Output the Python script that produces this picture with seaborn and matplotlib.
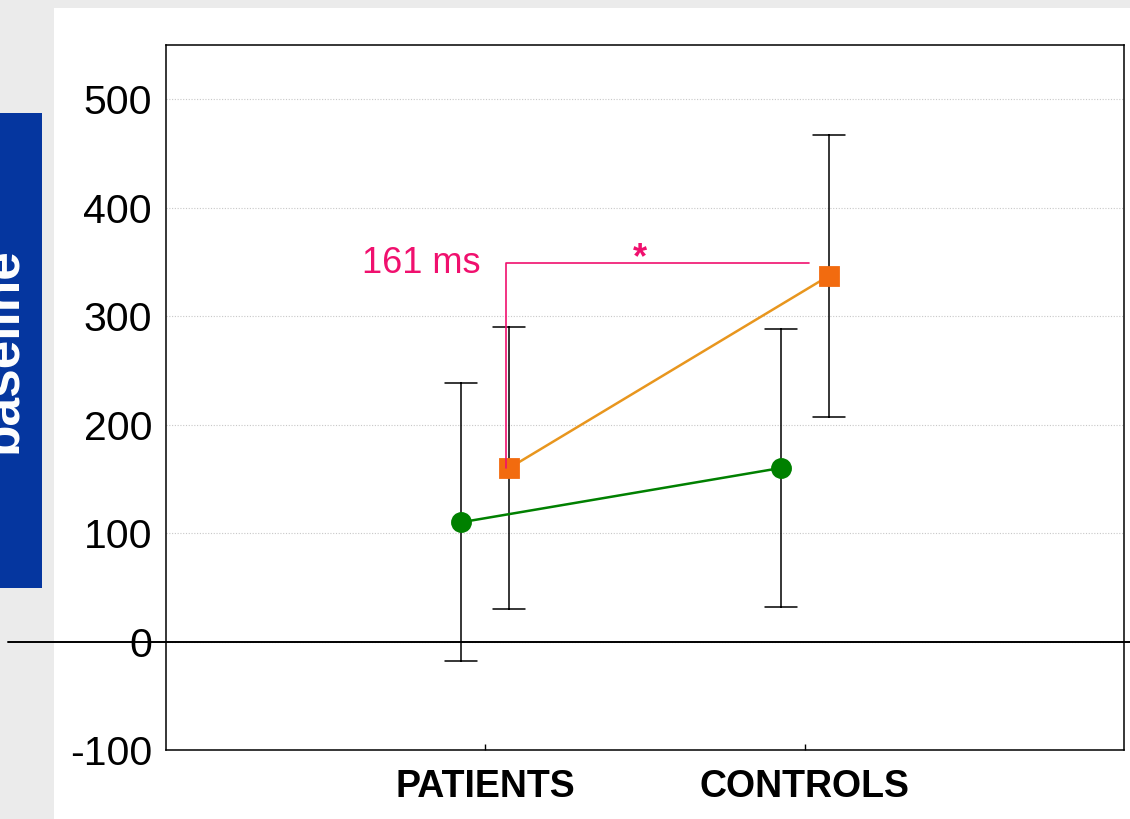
import pandas as pd
import matplotlib
matplotlib.use('Agg')
import matplotlib.pyplot as plt
import matplotlib.transforms as mtransforms
from matplotlib.lines import Line2D
from matplotlib.patches import Rectangle
import seaborn as sns

# Data (RT change from baseline, ms)
groups = ['PATIENTS', 'CONTROLS']
conditions = ['Condition A', 'Condition B']
means_a = [110, 160]
means_b = [160, 337]
errs_a = [128, 128]
errs_b = [130, 130]
yticks = [-100, 0, 100, 200, 300, 400, 500]

line_colors = ['#008000', '#e8961e']
marker_colors = ['#008000', '#f26b0f']
pink = '#f0106e'

# Long table: lower / mean / upper per cell, so median = mean and min/max = error bar
rows = []
for cond, means, errs in [(conditions[0], means_a, errs_a), (conditions[1], means_b, errs_b)]:
    for g, m, e in zip(groups, means, errs):
        for v in (m - e, m, m + e):
            rows.append({'group': g, 'condition': cond, 'rt': v})
df = pd.DataFrame(rows)

sns.set_style('white')
plt.rcParams['font.family'] = ['Liberation Sans', 'DejaVu Sans']
plt.rcParams['axes.unicode_minus'] = False

fig = plt.figure(figsize=(11.3, 8.19), dpi=100, facecolor='#ebebeb')
W, H = 1130, 819
fig.patches.append(Rectangle((54 / W, 0), 1 - 54 / W, 1 - 8 / H, transform=fig.transFigure,
                             facecolor='white', edgecolor='none', zorder=-2))
fig.patches.append(Rectangle((0, 1 - 588 / H), 42 / W, (588 - 113) / H, transform=fig.transFigure,
                             facecolor='#05369f', edgecolor='none', zorder=-1))
fig.text(16 / W, 1 - 350 / H, 'baseline', rotation=90, rotation_mode='anchor',
         ha='center', va='baseline', color='white', fontsize=37, fontweight='bold', zorder=2)

ax = fig.add_axes([166 / W, 1 - 750 / H, (1124 - 166) / W, (750 - 45) / H])
ax.set_facecolor('white')

# connecting lines
sns.pointplot(data=df, x='group', y='rt', hue='condition', order=groups, hue_order=conditions,
              palette=line_colors, estimator='median', errorbar=None, dodge=0.15,
              markers='', linewidth=1.8, legend=False, ax=ax, zorder=3)
# markers + error bars
sns.pointplot(data=df, x='group', y='rt', hue='condition', order=groups, hue_order=conditions,
              palette=marker_colors, estimator='median', errorbar=lambda v: (v.min(), v.max()),
              dodge=0.15, markers=['o', 's'], linestyles='none', capsize=0.1,
              err_kws={'color': 'black', 'linewidth': 1.1, 'zorder': 2},
              markersize=13, legend=False, ax=ax, zorder=4)

ax.set_xlim(-1, 2)
ax.set_ylim(-100, 550)
ax.set_yticks(yticks)
ax.set_xlabel('')
ax.set_ylabel('')
ax.yaxis.grid(True, color='#c8c8c8', linestyle=(0, (1, 1.5)), linewidth=0.8)
ax.xaxis.grid(False)
ax.set_axisbelow(True)
ax.tick_params(axis='y', length=0, pad=10, labelsize=29.5, colors='black')
ax.tick_params(axis='x', direction='in', length=4, width=1, pad=14, labelsize=27, colors='black',
               bottom=True)
for lbl in ax.get_xticklabels():
    lbl.set_fontweight('bold')
for sp in ax.spines.values():
    sp.set_visible(True)
    sp.set_color('black')
    sp.set_linewidth(1.1)

# zero line running across the whole figure width
trans = mtransforms.blended_transform_factory(fig.transFigure, ax.transData)
ax.add_line(Line2D([8 / W, 1.0], [0, 0], transform=trans, color='black', linewidth=1.4,
                   clip_on=False, zorder=2.5))

# significance bracket
off = 0.075
br_y = 349
x_left = 0 + off - 0.01
x_right = 1 + off - 0.06
ax.plot([x_left, x_left, x_right], [means_b[0], br_y, br_y], color=pink, linewidth=1.2, zorder=5)
ax.text(x_left - 0.08, br_y, '161 ms', color=pink, fontsize=26, ha='right', va='center')
ax.text(0.483, br_y - 5, '*', color=pink, fontsize=26, fontweight='bold', ha='center', va='baseline')

fig.savefig('out.png', dpi=100, facecolor=fig.get_facecolor())
